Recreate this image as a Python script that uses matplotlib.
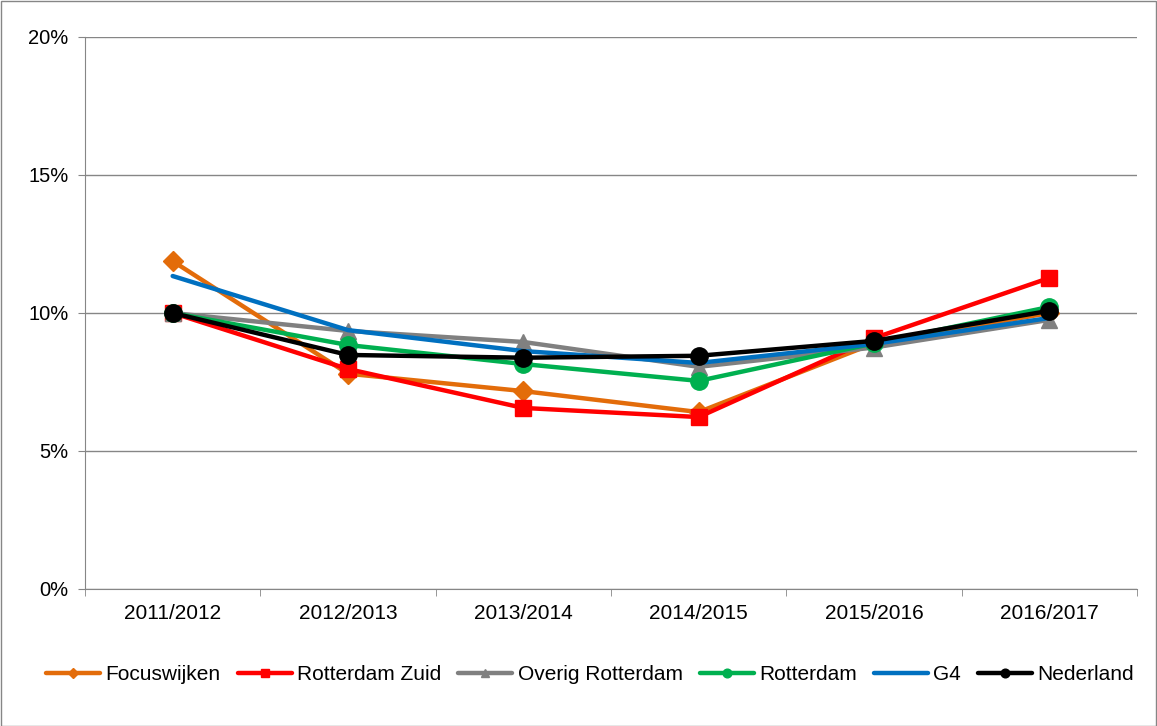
import numpy as np
import matplotlib
matplotlib.use('Agg')
import matplotlib.pyplot as plt
from matplotlib.ticker import FuncFormatter, FixedLocator

plt.rcParams['font.family'] = ['Liberation Sans', 'DejaVu Sans']

years = ['2011/2012', '2012/2013', '2013/2014', '2014/2015', '2015/2016', '2016/2017']

focuswijken = [11.88, 7.8, 7.17, 6.41, 8.9, 10.0]
rotterdam_zuid = [10.0, 7.97, 6.56, 6.23, 9.09, 11.27]
overig_rotterdam = [10.0, 9.35, 8.95, 8.05, 8.75, 9.75]
rotterdam = [10.0, 8.84, 8.15, 7.54, 8.9, 10.22]
g4 = [11.34, 9.38, 8.62, 8.19, 8.88, 9.82]
nederland = [10.0, 8.48, 8.38, 8.45, 8.99, 10.08]

series = [
    ('Focuswijken', focuswijken, '#E36C0A', 'D', 10),
    ('Rotterdam Zuid', rotterdam_zuid, '#FF0000', 's', 12),
    ('Overig Rotterdam', overig_rotterdam, '#808080', '^', 11),
    ('Rotterdam', rotterdam, '#00B050', 'o', 12.5),
    ('G4', g4, '#0070C0', None, 0),
    ('Nederland', nederland, '#000000', 'o', 12.5),
]

fig = plt.figure(figsize=(11.57, 7.26), dpi=100)
ax = fig.add_axes([85 / 1157, 1 - 589 / 726, (1137 - 85) / 1157, (589 - 37) / 726])

x = np.arange(len(years))
for name, vals, col, mk, ms in series:
    ax.plot(x, vals, color=col, lw=3.2, marker=mk, markersize=ms,
            markeredgecolor=col, label=name, solid_capstyle='round')

ax.set_xlim(-0.5, len(years) - 0.5)
ax.set_ylim(0, 20)
ax.set_yticks([0, 5, 10, 15, 20])
ax.yaxis.set_major_formatter(FuncFormatter(lambda v, p: '%d%%' % v))
ax.set_xticks(x)
ax.set_xticklabels(years)
ax.xaxis.set_minor_locator(FixedLocator(np.arange(-0.5, len(years), 1.0)))
ax.tick_params(axis='x', which='major', length=0, pad=11, labelsize=15)
ax.tick_params(axis='x', which='minor', length=5, color='#868686')
ax.tick_params(axis='y', length=5, color='#868686', labelsize=14.5, pad=7)
ax.grid(axis='y', color='#868686', lw=1)
ax.set_axisbelow(True)
for s in ['top', 'right']:
    ax.spines[s].set_visible(False)
for s in ['left', 'bottom']:
    ax.spines[s].set_color('#868686')

fig.legend(loc='center', bbox_to_anchor=(590 / 1157, 1 - 675 / 726), ncol=6, frameon=False,
           fontsize=15, handlelength=2.6, handletextpad=0.25, columnspacing=0.82,
           markerscale=0.5)

fig.add_artist(plt.Rectangle((0.5 / 1157, 0.5 / 726), 1 - 1.5 / 1157, 1 - 1.5 / 726,
                             transform=fig.transFigure, fill=False, ec='#868686', lw=1))

fig.savefig('out.png', dpi=100)
